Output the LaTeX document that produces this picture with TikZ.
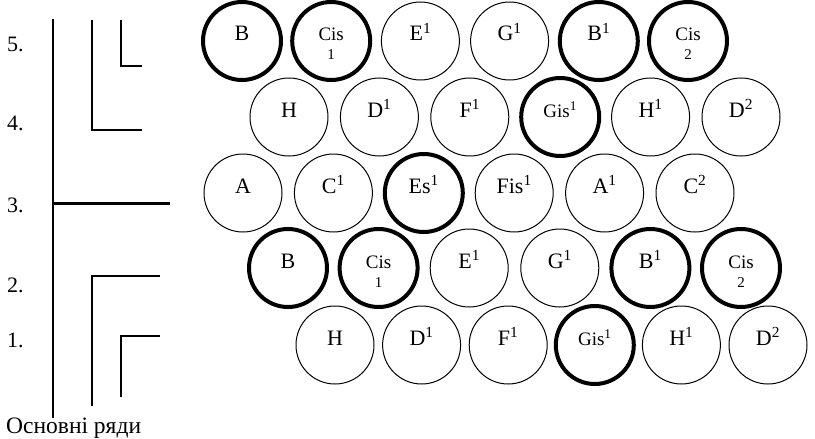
\documentclass[tikz,border=0pt]{standalone}
\usepackage{fontspec}
\setmainfont{Liberation Serif}
\newcommand{\up}[2]{#1\textsuperscript{#2}}
\newcommand{\lesser}{\fontsize{19}{21}\selectfont}
\newcommand{\twoline}[2]{\begin{tabular}[t]{@{}c@{}}\lesser #1\\[-5pt]{\fontsize{15}{16}\selectfont #2}\end{tabular}}

\begin{document}
\begin{tikzpicture}[x=1pt, y=-1pt]
  \tikzstyle{key}=[circle, draw, minimum size=78pt, inner sep=0pt, line width=1pt, font=\fontsize{22}{24}\selectfont]
  \tikzstyle{dark}=[key, line width=4pt]
  \tikzstyle{num}=[anchor=base west, inner sep=0pt, font=\fontsize{22}{24}\selectfont]
  \tikzstyle{rail}=[line width=1.3pt]

  \useasboundingbox (0,0) rectangle (815,439);

  % row 5
  \foreach \lab/\st [count=\i from 0] in {B/dark, {\twoline{Cis}{1}}/dark, \up{E}{1}/key, \up{G}{1}/key, \up{B}{1}/dark, {\twoline{Cis}{2}}/dark}
    \node[\st] (r5-\i) at (242+89.2*\i, 41) {\smash{\lab}};
  % row 4
  \foreach \lab/\st [count=\i from 0] in {H/key, \up{D}{1}/key, \up{F}{1}/key, {\lesser\up{Gis}{1}}/dark, \up{H}{1}/key, \up{D}{2}/key}
    \node[\st] (r4-\i) at (289+90.4*\i, 117) {\smash{\lab}};
  % row 3
  \foreach \lab/\st [count=\i from 0] in {A/key, \up{C}{1}/key, \up{Es}{1}/dark, \up{Fis}{1}/key, \up{A}{1}/key, \up{C}{2}/key}
    \node[\st] (r3-\i) at (243+90.4*\i, 193) {\smash{\lab}};
  % row 2
  \foreach \lab/\st [count=\i from 0] in {B/dark, {\twoline{Cis}{1}}/dark, \up{E}{1}/key, \up{G}{1}/key, \up{B}{1}/dark, {\twoline{Cis}{2}}/dark}
    \node[\st] (r2-\i) at (288+90.6*\i, 268) {\smash{\lab}};
  % row 1
  \foreach \lab/\st [count=\i from 0] in {H/key, \up{D}{1}/key, \up{F}{1}/key, {\lesser\up{Gis}{1}}/dark, \up{H}{1}/key, \up{D}{2}/key}
    \node[\st] (r1-\i) at (335+86.6*\i, 345) {\smash{\lab}};

  % row numbers
  \node[num] (n5) at (7,52) {5.};
  \node[num] (n4) at (7,130) {4.};
  \node[num] (n3) at (7,212) {3.};
  \node[num] (n2) at (7,292) {2.};
  \node[num] (n1) at (7,347) {1.};

  % brackets
  \draw[rail] (53,19) -- (53,418);
  \draw[rail] (92,20) |- (142,130);
  \draw[rail] (121,20) |- (142,66);
  \draw[line width=3pt] (53,203) -- (170,203);
  \draw[rail] (92,406) |- (160,276);
  \draw[rail] (121,397) |- (160,336);

  \node[num, font=\fontsize{23.5}{26}\selectfont] (main) at (6,433) {Основні ряди};
\end{tikzpicture}
\end{document}
